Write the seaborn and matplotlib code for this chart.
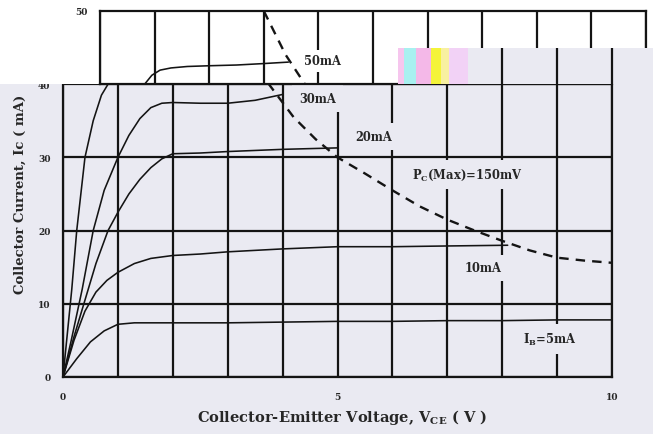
import matplotlib
matplotlib.use("Agg")
import matplotlib.pyplot as plt
import seaborn as sns
from matplotlib.patches import Rectangle

# Ic-Vce curves (V in volts, I in mA)
v_5ma = [0, 0.25, 0.5, 0.75, 1.0, 1.3, 2.0, 3.0, 4.0, 5.0, 6.0, 7.0, 8.0, 9.0, 10.0]
i_5ma = [0, 2.5, 4.8, 6.3, 7.2, 7.4, 7.4, 7.4, 7.5, 7.6, 7.6, 7.7, 7.7, 7.8, 7.8]

v_10ma = [0, 0.2, 0.4, 0.6, 0.8, 1.0, 1.3, 1.6, 2.0, 2.5, 3.0, 4.0, 5.0, 6.0, 7.0, 8.1]
i_10ma = [0, 5.0, 9.0, 11.6, 13.2, 14.3, 15.5, 16.2, 16.6, 16.8, 17.1, 17.5, 17.8, 17.8, 17.9, 18.0]

v_20ma = [0, 0.2, 0.4, 0.6, 0.82, 1.0, 1.2, 1.4, 1.6, 1.8, 2.0, 2.5, 3.0, 4.0, 5.0]
i_20ma = [0, 5.5, 10.5, 15.5, 20.0, 22.5, 25.0, 27.0, 28.6, 29.8, 30.5, 30.6, 30.8, 31.1, 31.3]

v_30ma = [0, 0.15, 0.35, 0.55, 0.75, 1.0, 1.2, 1.4, 1.6, 1.8, 2.0, 2.5, 3.0, 3.5, 4.0]
i_30ma = [0, 5.0, 12.0, 20.0, 25.5, 30.0, 33.0, 35.3, 36.8, 37.4, 37.5, 37.4, 37.4, 37.8, 38.6]

v_50ma = [0, 0.08, 0.16, 0.25, 0.4, 0.55, 0.7, 0.82, 0.95, 1.1, 1.3, 1.6, 2.0, 2.5, 3.0, 3.45]
i_50ma = [0, 6.0, 12.0, 20.0, 30.0, 35.0, 38.5, 40.0, 41.2, 41.9, 42.2, 42.4, 42.5, 42.6, 42.8, 43.0]

# max dissipation curve (dashed)
v_pc = [3.0, 3.4, 3.75, 4.2, 4.6, 5.0, 5.5, 6.0, 6.5, 7.0, 7.5, 8.0, 8.5, 9.0, 9.5, 10.0]
i_pc = [50, 44, 40, 35.5, 32.5, 30, 27.8, 25.5, 23.3, 21.5, 20.0, 18.6, 17.3, 16.3, 15.9, 15.6]

curves_v = [v_5ma, v_10ma, v_20ma, v_30ma, v_50ma]
curves_i = [i_5ma, i_10ma, i_20ma, i_30ma, i_50ma]

label_text = ["30mA", "20mA", "P$_{\\rm C}$(Max)=150mV", "10mA", "I$_{\\rm B}$=5mA"]
label_x = [4.64, 5.65, 7.36, 7.65, 8.87]
label_y = [38.0, 32.8, 27.7, 14.9, 5.2]

x_ticks = list(range(11))
x_ticklabels = ["0", "", "", "", "", "5", "", "", "", "", "10"]
y_ticks = [0, 10, 20, 30, 40, 50]
y_ticklabels = ["0", "10", "20", "30", "40", ""]

BG = "#EAEAF2"
INK = "#141414"

sns.set_theme(style="darkgrid", rc={
    "grid.color": INK, "grid.linewidth": 1.6,
    "axes.edgecolor": INK, "axes.linewidth": 1.6,
    "figure.facecolor": BG,
})
plt.rcParams["font.family"] = ["DejaVu Serif"]
plt.rcParams["font.weight"] = "bold"
plt.rcParams["mathtext.fontset"] = "custom"
plt.rcParams["mathtext.rm"] = "DejaVu Serif:bold"
plt.rcParams["mathtext.it"] = "DejaVu Serif:italic:bold"
plt.rcParams["mathtext.bf"] = "DejaVu Serif:bold"

W, H = 653, 435
fig = plt.figure(figsize=(W / 100, H / 100), dpi=100)

# main plot: x 0..10 -> px 63..612, y 0..50 -> px 378..12
ax_l, ax_w = 63, 549
ax = fig.add_axes([ax_l / W, 57 / H, ax_w / W, 366 / H])
for v, i in zip(curves_v, curves_i):
    sns.lineplot(x=v, y=i, ax=ax, color=INK, lw=1.15, sort=False, estimator=None)
sns.lineplot(x=v_pc, y=i_pc, ax=ax, color=INK, lw=1.7, sort=False,
             estimator=None, linestyle=(0, (4, 3)))

for t, x, y in zip(label_text, label_x, label_y):
    ax.text(x, y, t, ha="center", va="center", fontsize=8.3, fontweight="bold",
            zorder=1.5, bbox=dict(boxstyle="square,pad=0.6", fc=BG, ec="none"))

ax.set_xlim(0, 10)
ax.set_ylim(0, 50)
ax.set_xticks(x_ticks)
ax.set_xticklabels(x_ticklabels)
ax.set_yticks(y_ticks)
ax.set_yticklabels(y_ticklabels)
ax.tick_params(axis="both", length=0, labelsize=6.5)
ax.tick_params(axis="x", pad=11)
ax.tick_params(axis="y", pad=9)
ax.set_xlabel("Collector-Emitter Voltage, V$_{\\rm CE}$ ( V )", fontsize=10.5,
              fontweight="bold")
ax.set_ylabel("Collector Current, Ic ( mA)", fontsize=9.5, fontweight="bold")
ax.xaxis.set_label_coords(0.508, -0.109)
ax.xaxis.label.set_va("center")
ax.yaxis.set_label_coords(-0.078, 0.503)
ax.yaxis.label.set_va("center")

# white strip across the top of the picture (scan artefact)
fig.add_artist(Rectangle((0, 350 / H), 398 / W, 85 / H, transform=fig.transFigure,
                         fc="white", ec="none", zorder=1))
fig.add_artist(Rectangle((398 / W, 386 / H), 255 / W, 49 / H, transform=fig.transFigure,
                         fc="white", ec="none", zorder=1))

# shifted upper strip (40..50 mA), drawn ~37 px to the right
top_l, top_w = 100, 546
top = fig.add_axes([top_l / W, 350 / H, top_w / W, 73 / H], facecolor="white")
top.set_zorder(3)
sns.lineplot(x=v_50ma, y=i_50ma, ax=top, color=INK, lw=1.15, sort=False, estimator=None)
sns.lineplot(x=v_pc, y=i_pc, ax=top, color=INK, lw=1.7, sort=False,
             estimator=None, linestyle=(0, (4, 3)))
top.text(4.08, 43.2, "50mA", ha="center", va="center", fontsize=8.3, fontweight="bold",
         zorder=1.5, bbox=dict(boxstyle="square,pad=0.4", fc="white", ec="none"))
top.set_xlim(0, 10)
top.set_ylim(40, 50)
top.set_xticks(x_ticks)
top.set_xticklabels([""] * len(x_ticks))
top.set_yticks([50])
top.set_yticklabels(["50"])
top.tick_params(axis="both", length=0, labelsize=6.5)
top.tick_params(axis="y", pad=9)
top.grid(axis="y", visible=False)
# bottom edge stops where the main plot ends, right edge stops at the glitch
top.spines["bottom"].set_bounds(0, (ax_l + ax_w - top_l) / top_w * 10)
top.spines["right"].set_bounds(50 - (49 - 12) / 73 * 10, 50)

# lower-right part of the strip shows the main grid instead (px 398..653, 49..85)
gap = fig.add_axes([398 / W, 350 / H, 255 / W, 36 / H], facecolor=BG)
gap.set_zorder(4)
gap.set_xlim((398 - ax_l) / ax_w * 10, (W - ax_l) / ax_w * 10)
gap.set_ylim(0, 1)
gap.set_xticks([7, 8, 9, 10])
gap.set_yticks([])
gap.tick_params(axis="x", length=0, labelbottom=False)
for s in gap.spines.values():
    s.set_visible(False)

# colour noise block
for x0, w, c in [(398, 8, "#f6c6ee"), (404, 12, "#a8f0f0"), (416, 15, "#f4b8e8"),
                 (431, 10, "#f4f43a"), (441, 8, "#f8f0a0"), (449, 19, "#f2d2f6")]:
    fig.add_artist(Rectangle((x0 / W, 350 / H), w / W, 36 / H, transform=fig.transFigure,
                             fc=c, ec="none", zorder=5))

fig.savefig("out.png", dpi=100, facecolor=BG)
